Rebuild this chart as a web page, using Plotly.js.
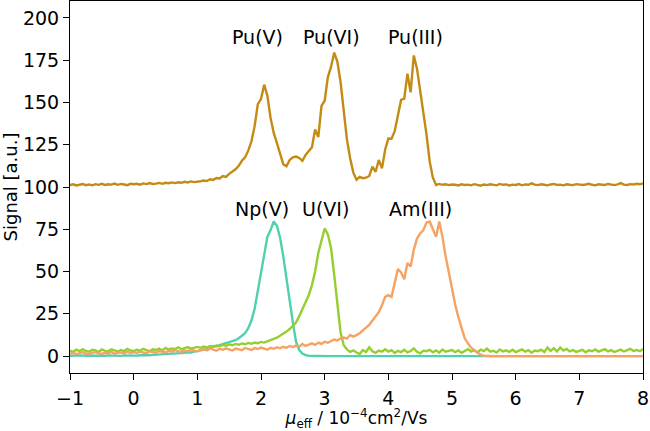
<!DOCTYPE html>
<html>
<head>
<meta charset="utf-8">
<script src="https://cdn.plot.ly/plotly-3.0.1.min.js"></script>
<style>
  html, body { margin: 0; padding: 0; background: #fff; }
  #chart { width: 650px; height: 431px; }
</style>
</head>
<body>
<div id="chart"></div>
<script>
// Effective mobility axis, 10^-4 cm^2/Vs, sampled every 0.05
const mobility = [
  -1,-0.95,-0.9,-0.85,-0.8,-0.75,-0.7,-0.65,-0.6,-0.55,-0.5,-0.45,-0.4,-0.35,-0.3,-0.25,-0.2,-0.15,-0.1,-0.05,
  0,0.05,0.1,0.15,0.2,0.25,0.3,0.35,0.4,0.45,0.5,0.55,0.6,0.65,0.7,0.75,0.8,0.85,0.9,0.95,
  1,1.05,1.1,1.15,1.2,1.25,1.3,1.35,1.4,1.45,1.5,1.55,1.6,1.65,1.7,1.75,1.8,1.85,1.9,1.95,
  2,2.05,2.1,2.15,2.2,2.25,2.3,2.35,2.4,2.45,2.5,2.55,2.6,2.65,2.7,2.75,2.8,2.85,2.9,2.95,
  3,3.05,3.1,3.15,3.2,3.25,3.3,3.35,3.4,3.45,3.5,3.55,3.6,3.65,3.7,3.75,3.8,3.85,3.9,3.95,
  4,4.05,4.1,4.15,4.2,4.25,4.3,4.35,4.4,4.45,4.5,4.55,4.6,4.65,4.7,4.75,4.8,4.85,4.9,4.95,
  5,5.05,5.1,5.15,5.2,5.25,5.3,5.35,5.4,5.45,5.5,5.55,5.6,5.65,5.7,5.75,5.8,5.85,5.9,5.95,
  6,6.05,6.1,6.15,6.2,6.25,6.3,6.35,6.4,6.45,6.5,6.55,6.6,6.65,6.7,6.75,6.8,6.85,6.9,6.95,
  7,7.05,7.1,7.15,7.2,7.25,7.3,7.35,7.4,7.45,7.5,7.55,7.6,7.65,7.7,7.75,7.8,7.85,7.9,7.95,
  8
];

// Plutonium electropherogram (offset by +100)
const plutonium = [
  101.2,101.6,100.9,101.4,101.8,101.1,101.5,101.0,101.7,101.3,101.9,101.2,101.6,101.4,102.0,101.3,101.8,101.5,101.1,101.9,
  101.6,101.9,101.4,102.1,101.7,102.3,101.8,102.0,102.4,101.9,102.5,102.2,102.7,102.3,102.8,102.5,103.1,102.7,103.3,102.9,
  103.0,103.4,103.8,103.5,104.6,104.2,105.3,105.0,106.5,106.0,107.8,109.0,110.5,112.5,115.5,117.5,121.5,127.0,136.0,149.0,
  152.0,160.5,154.0,141.0,132.0,126.0,119.5,113.5,112.3,116.0,117.5,118.0,117.2,115.5,119.0,121.0,123.5,134.0,129.5,148.0,
  151.0,165.0,171.0,179.5,174.0,162.0,146.0,128.0,117.0,108.5,104.3,106.0,105.2,105.5,106.5,112.0,109.0,116.0,111.0,122.0,
  128.7,128.5,133.0,143.0,151.5,152.3,167.0,156.0,177.8,170.0,157.0,146.0,131.0,115.0,105.5,101.2,101.8,101.3,101.6,101.1,
  101.5,101.3,100.9,101.6,101.2,101.4,101.0,101.7,101.3,100.8,101.5,101.1,101.6,101.2,101.0,101.8,101.3,101.5,100.9,101.4,
  101.2,101.7,101.0,101.5,101.3,102.2,101.4,101.1,101.6,101.3,101.0,101.5,101.8,101.2,101.4,101.0,101.6,101.3,101.1,101.7,
  101.4,101.2,101.5,101.9,101.3,101.0,101.6,101.4,101.2,101.8,101.5,101.1,101.6,102.3,101.4,101.2,101.7,101.5,101.9,101.6,
  102.1
];

// Neptunium(V)
const neptunium = [
  0.2,0.3,0.1,0.2,0.4,0.2,0.1,0.3,0.2,0.3,0.1,0.2,0.4,0.3,0.2,0.3,0.1,0.4,0.3,0.2,
  0.4,0.3,0.5,0.4,0.6,0.5,0.7,0.8,0.7,1.0,0.9,1.2,1.1,1.4,1.6,1.5,1.9,2.2,2.1,2.6,
  3.0,3.3,3.8,4.1,4.6,5.9,5.6,6.5,7.0,7.4,8.3,8.9,9.4,10.6,11.8,13.5,16.5,21.0,28.0,39.0,
  50.0,61.0,70.5,74.5,79.6,77.0,70.0,59.0,45.0,33.0,20.0,8.5,3.5,1.5,0.6,0.2,0.1,0,0,0,
  0,0,0,0,0,0,0,0,0,0,0,0,0,0,0,0,0,0,0,0,
  0,0,0,0,0,0,0,0,0,0,0,0,0,0,0,0,0,0,0,0,
  0,0,0,0,0,0,0,0,0,0,0,0,0,0,0,0,0,0,0,0,
  0,0,0,0,0,0,0,0,0,0,0,0,0,0,0,0,0,0,0,0,
  0,0,0,0,0,0,0,0,0,0,0,0,0,0,0,0,0,0,0,0,
  0
];

// Uranium(VI)
const uranium = [
  3.2,2.5,3.8,2.9,4.1,3.0,2.6,3.7,3.3,2.4,3.9,3.1,2.8,4.0,3.4,2.7,3.6,3.0,4.2,3.3,
  2.9,3.8,3.2,4.3,3.5,2.9,4.0,3.6,4.4,3.3,4.8,3.9,4.5,4.1,5.2,4.0,4.7,5.3,4.4,5.0,
  5.4,4.9,5.6,5.1,6.0,5.5,6.2,5.8,6.6,6.1,6.9,6.4,7.2,6.7,7.5,7.0,7.8,7.3,8.0,7.6,
  8.4,8.0,8.9,9.5,10.2,10.9,12.0,13.1,14.5,16.0,17.8,19.8,23.5,27.5,31.5,36.0,42.0,50.0,61.0,68.5,
  75.5,72.0,64.0,48.0,29.0,14.0,6.5,4.0,2.5,3.4,2.1,1.2,3.6,2.4,5.2,2.8,1.9,3.3,2.6,4.0,
  2.7,3.5,1.8,3.1,2.4,3.8,2.2,3.0,4.6,2.5,1.6,3.2,2.9,3.7,2.3,3.4,2.0,3.9,2.6,3.1,
  3.6,2.4,3.3,1.9,3.0,4.1,2.7,3.5,2.2,3.8,3.0,4.4,2.6,3.2,2.1,3.9,2.8,3.4,2.5,3.7,
  2.3,3.1,4.0,2.6,3.5,2.0,3.3,2.9,3.8,2.4,5.0,3.1,4.7,2.7,5.1,3.3,4.2,2.8,3.6,2.5,
  3.0,3.7,2.2,3.4,2.9,3.9,2.6,3.3,4.1,2.8,3.5,2.4,3.2,3.8,2.7,3.4,4.3,3.0,3.6,2.9,
  4.2
];

// Americium(III)
const americium = [
  1.4,2.0,1.2,1.8,2.3,1.5,1.1,1.9,2.4,1.6,1.3,2.1,1.7,2.5,1.4,1.9,2.2,1.6,2.6,1.8,
  2.3,1.9,2.7,2.1,1.7,2.8,2.3,2.0,3.0,2.4,2.2,3.1,2.6,3.5,2.8,2.4,3.3,2.9,3.7,3.1,
  2.7,3.6,4.2,3.4,4.5,3.8,3.2,4.3,3.7,4.6,3.9,3.3,4.4,4.0,3.5,4.8,4.1,3.6,4.7,4.2,
  5.0,4.4,3.8,4.9,4.3,5.2,4.6,5.5,4.9,6.0,5.3,6.2,5.6,7.2,6.0,6.8,7.5,6.6,8.0,7.2,
  8.5,7.9,9.0,9.8,9.2,10.5,11.0,10.3,12.5,11.5,12.4,13.5,15.2,16.8,18.5,21.0,23.5,26.0,30.0,35.0,
  36.0,35.0,43.3,51.5,49.5,45.5,55.0,53.0,62.9,69.5,72.5,74.5,79.0,79.6,75.0,70.5,79.6,70.5,59.0,49.0,
  39.5,30.5,23.0,16.0,10.5,7.5,5.0,3.5,2.0,0.8,0.2,0,0,0,0,0,0,0,0,0,
  0,0,0,0,0,0,0,0,0,0,0,0,0,0,0,0,0,0,0,0,
  0,0,0,0,0,0,0,0,0,0,0,0,0,0,0,0,0,0,0,0,
  0
];

// Species labels and where they sit
const labelText = ['Pu(V)', 'Pu(VI)', 'Pu(III)', 'Np(V)', 'U(VI)', 'Am(III)'];
const labelX    = [1.95, 3.1, 4.42, 2.02, 3.01, 4.5];
const labelY    = [188.5, 188.5, 188.5, 87, 87, 87];

const seriesList = [
  { name: 'Pu', y: plutonium, color: '#c38b13' },
  { name: 'Np(V)', y: neptunium, color: '#4fd1ae' },
  { name: 'U(VI)', y: uranium, color: '#94cf2f' },
  { name: 'Am(III)', y: americium, color: '#f6a262' }
];

seriesList.forEach(s => {
  if (s.y.length !== mobility.length) {
    throw new Error(s.name + ': ' + s.y.length + ' values for ' + mobility.length + ' positions');
  }
});

const FONT = 'DejaVu Sans, Liberation Sans, sans-serif';

const traces = seriesList.map(s => ({
  type: 'scatter',
  mode: 'lines',
  name: s.name,
  x: mobility,
  y: s.y,
  line: { color: s.color, width: 2.4 },
  hoverinfo: 'skip'
}));

const annotations = labelText.map((t, i) => ({
  text: t,
  x: labelX[i],
  y: labelY[i],
  xref: 'x',
  yref: 'y',
  showarrow: false,
  xanchor: 'center',
  yanchor: 'middle',
  font: { family: FONT, size: 19, color: '#000' }
}));

const axisCommon = {
  showgrid: false,
  zeroline: false,
  showline: true,
  linecolor: '#000',
  linewidth: 1,
  mirror: true,
  ticks: 'outside',
  ticklen: 6,
  tickwidth: 1,
  tickcolor: '#000',
  tickfont: { family: FONT, size: 19, color: '#000' }
};

const layout = {
  width: 650,
  height: 431,
  margin: { l: 70, r: 7, t: 1, b: 58 },
  paper_bgcolor: '#fff',
  plot_bgcolor: '#fff',
  showlegend: false,
  xaxis: Object.assign({}, axisCommon, {
    range: [-1, 8],
    tick0: -1,
    dtick: 1,
    ticklabelstandoff: 2,
    title: {
      text: '<i>μ</i><sub>eff</sub> / 10<sup>−4</sup>cm<sup>2</sup>/Vs',
      font: { family: FONT, size: 17, color: '#000' },
      standoff: 8
    }
  }),
  yaxis: Object.assign({}, axisCommon, {
    range: [-10, 210],
    tick0: 0,
    dtick: 25,
    title: {
      text: 'Signal [a.u.]',
      font: { family: FONT, size: 18, color: '#000' },
      standoff: 6
    }
  }),
  annotations: annotations
};

Plotly.newPlot('chart', traces, layout, { staticPlot: true, displayModeBar: false });
</script>
</body>
</html>
